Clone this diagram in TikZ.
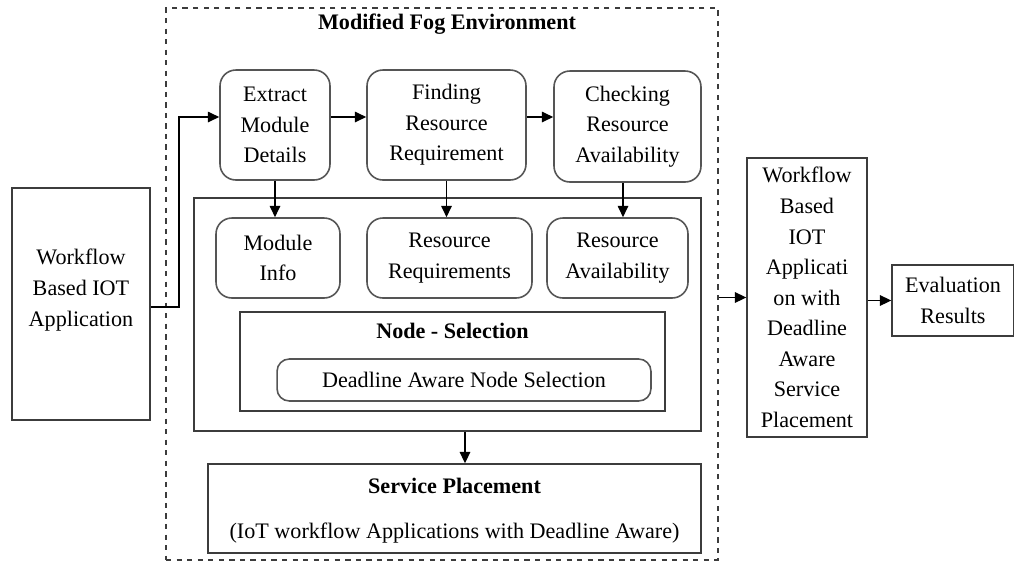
\documentclass[tikz,border=0pt]{standalone}
\usepackage{fontspec}
\setmainfont{Liberation Serif}
\usepackage{tikz}
\usetikzlibrary{arrows.meta,positioning,calc}
\definecolor{cInk}{HTML}{000000}
\definecolor{cEdge}{HTML}{3C3C3C}
\definecolor{cRound}{HTML}{555555}
\tikzset{
  txt/.style={align=center,font=\fontsize{12.6}{17.4}\selectfont,text=cInk,inner sep=0pt},
  plainbox/.style={draw=cEdge,line width=0.8pt,txt},
  rbox/.style={draw=cRound,line width=0.9pt,rounded corners=9pt,txt},
  fogbox/.style={draw=cEdge,dashed,line width=0.7pt,minimum width=11.04cm,minimum height=11.04cm,inner sep=0pt},
  ttl/.style={txt,font=\fontsize{12.6}{17.4}\selectfont\bfseries},
  arr/.style={-{Triangle[length=6.5pt,width=6pt]},line width=0.8pt,color=cInk},
}

\begin{document}
\begin{tikzpicture}[x=0.02cm,y=-0.02cm]
    \useasboundingbox (0,0) rectangle (1014,562);
    \node[fogbox] (fog) at (442,284) {};
    \node[ttl] (fogttl) at (447,24) {Modified Fog Environment};
    \node[plainbox,minimum width=2.76cm,minimum height=4.64cm] (app) at (81,304) {};
    \node[txt] (apptxt) at (81,290) {Workflow\\Based IOT\\Application};
    \node[rbox,minimum width=2.2cm,minimum height=2.2cm] (ext) at (275,125) {Extract\\Module\\Details};
    \node[rbox,minimum width=3.18cm,minimum height=2.2cm] (find) at (446.5,125) {Finding\\Resource\\Requirement};
    \node[rbox,minimum width=2.94cm,minimum height=2.22cm] (chk) at (627.5,126.5) {Checking\\Resource\\Availability};
    \node[plainbox,minimum width=10.14cm,minimum height=4.66cm] (core) at (447.5,314.5) {};
    \node[rbox,minimum width=2.48cm,minimum height=1.6cm] (mod) at (278,258) {Module\\Info};
    \node[rbox,minimum width=3.3cm,minimum height=1.6cm] (req) at (449.5,258) {Resource\\Requirements};
    \node[rbox,minimum width=2.82cm,minimum height=1.6cm] (avail) at (617.5,258) {Resource\\Availability};
    \node[plainbox,minimum width=8.5cm,minimum height=1.98cm] (nsel) at (452.5,361.5) {};
    \node[ttl] (nselttl) at ([yshift=-0.4cm]nsel.north) {Node - Selection};
    \node[rbox,rounded corners=7pt,minimum width=7.48cm,minimum height=0.84cm] (dans) at (464,380) {Deadline Aware Node Selection};
    \node[plainbox,minimum width=9.86cm,minimum height=1.78cm] (svc) at (454.5,508.5) {};
    \node[ttl] (svcttl) at ([yshift=-0.46cm]svc.north) {Service Placement};
    \node[txt] (svcsub) at ([yshift=0.42cm]svc.south) {(IoT workflow Applications with Deadline Aware)};
    \node[plainbox,minimum width=2.4cm,minimum height=5.58cm] (out) at (807,297.5) {Workflow\\Based\\IOT\\Applicati\\on with\\Deadline\\Aware\\Service\\Placement};
    \node[plainbox,minimum width=2.44cm,minimum height=1.42cm] (eval) at (953,300.5) {Evaluation\\Results};
    \draw[arr] ([yshift=-0.06cm]app.east) -- ([yshift=-0.06cm]app.east -| 179,0) |- ([yshift=0.16cm]ext.west);
    \draw[arr] ([yshift=0.16cm]ext.east) -- ([yshift=0.16cm]ext.east -| find.west);
    \draw[arr] ([yshift=0.16cm]find.east) -- ([yshift=0.16cm]find.east -| chk.west);
    \draw[arr] (ext.south) -- (ext.south |- mod.north);
    \draw[arr] (find.south) -- (find.south |- req.north);
    \draw[arr] ([xshift=-0.09cm]chk.south) -- ([xshift=-0.09cm]chk.south |- avail.north);
    \draw[arr] ([xshift=0.35cm]core.south) -- ([xshift=0.35cm]core.south |- svc.north);
    \draw[arr] (fog.east |- out.west) -- (out.west);
    \draw[arr] (out.east |- eval.west) -- (eval.west);
\end{tikzpicture}
\end{document}
